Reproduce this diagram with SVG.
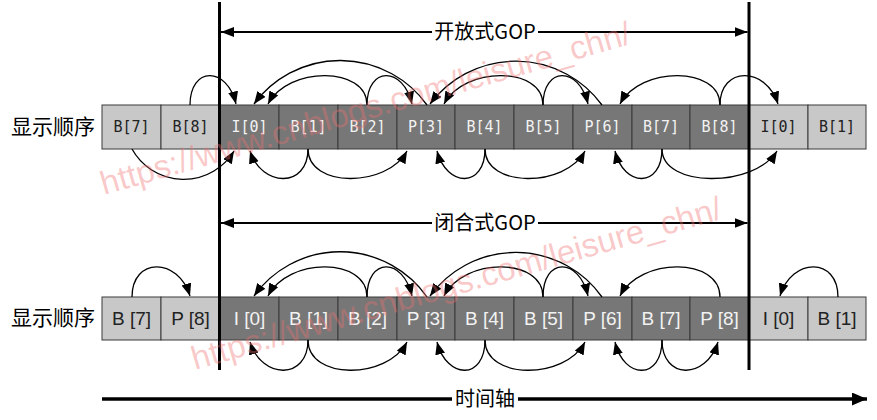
<svg xmlns="http://www.w3.org/2000/svg" width="877" height="420" viewBox="0 0 877 420">
<style>
.cell rect{stroke:#3a3a3a;stroke-width:1}
.dark rect{fill:#777777}
.light rect{fill:#c8c8c8}
.mono{font-family:"DejaVu Sans Mono","Liberation Mono",monospace;font-size:15px;text-anchor:middle}
.sans{font-family:"Liberation Sans",Arial,sans-serif;font-size:19px;text-anchor:middle}
.dark text{fill:#f2f2f2}
.light text{fill:#222222}
.cjk{font-family:"Noto Sans CJK SC","Noto Sans",sans-serif;font-size:20px;fill:#000}
.lbl{font-size:21px}
.arc{fill:none;stroke:#000;stroke-width:1.3;marker-end:url(#ah)}
.bar{stroke:#000;stroke-width:3}
.gop{stroke:#000;stroke-width:2}
.wm{font-family:"Liberation Sans",Arial,sans-serif;font-size:33px;fill:#f07070;fill-opacity:0.38}
</style>
<defs>
<marker id="ah" markerUnits="userSpaceOnUse" markerWidth="14" markerHeight="11" refX="12.5" refY="5" orient="auto"><path d="M0,0 L12.5,5 L0,10 z" fill="#000"/></marker>
<marker id="gh" markerUnits="userSpaceOnUse" markerWidth="14" markerHeight="11" refX="13" refY="5" orient="auto-start-reverse"><path d="M0,0 L13,5 L0,10 z" fill="#000"/></marker>
<marker id="th" markerUnits="userSpaceOnUse" markerWidth="16" markerHeight="14" refX="15" refY="6.5" orient="auto"><path d="M0,0 L15,6.5 L0,13 z" fill="#000"/></marker>
</defs>
<rect width="877" height="420" fill="#fff"/>
<g id="labels">
<text class="cjk lbl" x="11" y="134">显示顺序</text>
<text class="cjk lbl" x="11" y="325">显示顺序</text>
</g>
<g id="row-open">
<g id="o0" class="cell light"><rect x="102" y="105" width="59" height="44"/><text class="mono" x="131.5" y="132">B[7]</text></g>
<g id="o1" class="cell light"><rect x="161" y="105" width="59" height="44"/><text class="mono" x="190.5" y="132">B[8]</text></g>
<g id="o2" class="cell dark"><rect x="220" y="105" width="59" height="44"/><text class="mono" x="249.5" y="132">I[0]</text></g>
<g id="o3" class="cell dark"><rect x="279" y="105" width="59" height="44"/><text class="mono" x="308.5" y="132">B[1]</text></g>
<g id="o4" class="cell dark"><rect x="338" y="105" width="59" height="44"/><text class="mono" x="367.5" y="132">B[2]</text></g>
<g id="o5" class="cell dark"><rect x="397" y="105" width="58" height="44"/><text class="mono" x="426" y="132">P[3]</text></g>
<g id="o6" class="cell dark"><rect x="455" y="105" width="59" height="44"/><text class="mono" x="484.5" y="132">B[4]</text></g>
<g id="o7" class="cell dark"><rect x="514" y="105" width="59" height="44"/><text class="mono" x="543.5" y="132">B[5]</text></g>
<g id="o8" class="cell dark"><rect x="573" y="105" width="59" height="44"/><text class="mono" x="602.5" y="132">P[6]</text></g>
<g id="o9" class="cell dark"><rect x="632" y="105" width="58" height="44"/><text class="mono" x="661" y="132">B[7]</text></g>
<g id="o10" class="cell dark"><rect x="690" y="105" width="59" height="44"/><text class="mono" x="719.5" y="132">B[8]</text></g>
<g id="o11" class="cell light"><rect x="749" y="105" width="59" height="44"/><text class="mono" x="778.5" y="132">I[0]</text></g>
<g id="o12" class="cell light"><rect x="808" y="105" width="58" height="44"/><text class="mono" x="837" y="132">B[1]</text></g>
</g>
<g id="row-closed">
<g id="c0" class="cell light"><rect x="102" y="297" width="59" height="43"/><text class="sans" x="131.5" y="325">B [7]</text></g>
<g id="c1" class="cell light"><rect x="161" y="297" width="59" height="43"/><text class="sans" x="190.5" y="325">P [8]</text></g>
<g id="c2" class="cell dark"><rect x="220" y="297" width="59" height="43"/><text class="sans" x="249.5" y="325">I [0]</text></g>
<g id="c3" class="cell dark"><rect x="279" y="297" width="59" height="43"/><text class="sans" x="308.5" y="325">B [1]</text></g>
<g id="c4" class="cell dark"><rect x="338" y="297" width="59" height="43"/><text class="sans" x="367.5" y="325">B [2]</text></g>
<g id="c5" class="cell dark"><rect x="397" y="297" width="58" height="43"/><text class="sans" x="426" y="325">P [3]</text></g>
<g id="c6" class="cell dark"><rect x="455" y="297" width="59" height="43"/><text class="sans" x="484.5" y="325">B [4]</text></g>
<g id="c7" class="cell dark"><rect x="514" y="297" width="59" height="43"/><text class="sans" x="543.5" y="325">B [5]</text></g>
<g id="c8" class="cell dark"><rect x="573" y="297" width="59" height="43"/><text class="sans" x="602.5" y="325">P [6]</text></g>
<g id="c9" class="cell dark"><rect x="632" y="297" width="58" height="43"/><text class="sans" x="661" y="325">B [7]</text></g>
<g id="c10" class="cell dark"><rect x="690" y="297" width="59" height="43"/><text class="sans" x="719.5" y="325">P [8]</text></g>
<g id="c11" class="cell light"><rect x="749" y="297" width="59" height="43"/><text class="sans" x="778.5" y="325">I [0]</text></g>
<g id="c12" class="cell light"><rect x="808" y="297" width="58" height="43"/><text class="sans" x="837" y="325">B [1]</text></g>
</g>
<g id="connectors">
<path class="arc" d="M190,105 C190,66 227,66 236,104"/>
<path class="arc" d="M367,105 C367,66 288,66 268,104"/>
<path class="arc" d="M367,105 C367,66 403,66 412,104"/>
<path class="arc" d="M427,105 A107,107 0 0 0 254,104"/>
<path class="arc" d="M602,105 A107,107 0 0 0 430,104"/>
<path class="arc" d="M543,105 C543,66 464,66 444,104"/>
<path class="arc" d="M543,105 C543,66 579,66 588,104"/>
<path class="arc" d="M720,105 C720,66 640,66 620,104"/>
<path class="arc" d="M720,105 C720,66 766,66 778,104"/>
<path class="arc" d="M132,149 A59,59 0 0 0 234,151"/>
<path class="arc" d="M308,149 C308,188 262,188 250,151"/>
<path class="arc" d="M308,149 C308,188 387,188 407,151"/>
<path class="arc" d="M485,149 C485,188 447,188 437,151"/>
<path class="arc" d="M485,149 C485,188 565,188 585,151"/>
<path class="arc" d="M662,149 C662,188 624,188 615,151"/>
<path class="arc" d="M662,149 C662,188 754,188 777,151"/>
<path class="arc" d="M132,297 C132,257 178,257 190,296"/>
<path class="arc" d="M427,297 A106,106 0 0 0 254,296"/>
<path class="arc" d="M367,297 C367,257 288,257 268,296"/>
<path class="arc" d="M367,297 C367,257 403,257 412,296"/>
<path class="arc" d="M602,297 A106,106 0 0 0 430,296"/>
<path class="arc" d="M543,297 C543,257 464,257 444,296"/>
<path class="arc" d="M543,297 C543,257 579,257 588,296"/>
<path class="arc" d="M720,297 C720,257 640,257 620,296"/>
<path class="arc" d="M838,297 C838,257 792,257 780,296"/>
<path class="arc" d="M308,340 C308,380 262,380 250,342"/>
<path class="arc" d="M308,340 C308,380 387,380 407,342"/>
<path class="arc" d="M485,340 C485,380 447,380 437,342"/>
<path class="arc" d="M485,340 C485,380 565,380 585,342"/>
<path class="arc" d="M662,340 C662,380 624,380 615,342"/>
<path class="arc" d="M662,340 C662,380 706,380 718,342"/>
</g>
<g id="gop-bounds">
<line class="bar" x1="219.5" y1="2" x2="219.5" y2="370"/>
<line class="bar" x1="749" y1="2" x2="749" y2="370"/>
</g>
<g id="open-gop">
<line class="gop" x1="432" y1="32" x2="221" y2="32" marker-end="url(#gh)"/>
<line class="gop" x1="538" y1="32" x2="747.5" y2="32" marker-end="url(#gh)"/>
<text class="cjk" x="485" y="39" text-anchor="middle">开放式GOP</text>
</g>
<g id="closed-gop">
<line class="gop" x1="432" y1="223" x2="221" y2="223" marker-end="url(#gh)"/>
<line class="gop" x1="538" y1="223" x2="747.5" y2="223" marker-end="url(#gh)"/>
<text class="cjk" x="485" y="230" text-anchor="middle">闭合式GOP</text>
</g>
<g id="time-axis">
<line x1="102" y1="399" x2="452" y2="399" stroke="#000" stroke-width="3.5"/>
<line x1="518" y1="399" x2="867" y2="399" stroke="#000" stroke-width="3.5" marker-end="url(#th)"/>
<text class="cjk" x="485" y="406" text-anchor="middle">时间轴</text>
</g>
<g id="watermark">
<text class="wm" x="104" y="195" transform="rotate(-16 104 195)">https://www.cnblogs.com/leisure_chn/</text>
<text class="wm" x="195" y="370" transform="rotate(-16 195 370)">https://www.cnblogs.com/leisure_chn/</text>
</g>
</svg>
